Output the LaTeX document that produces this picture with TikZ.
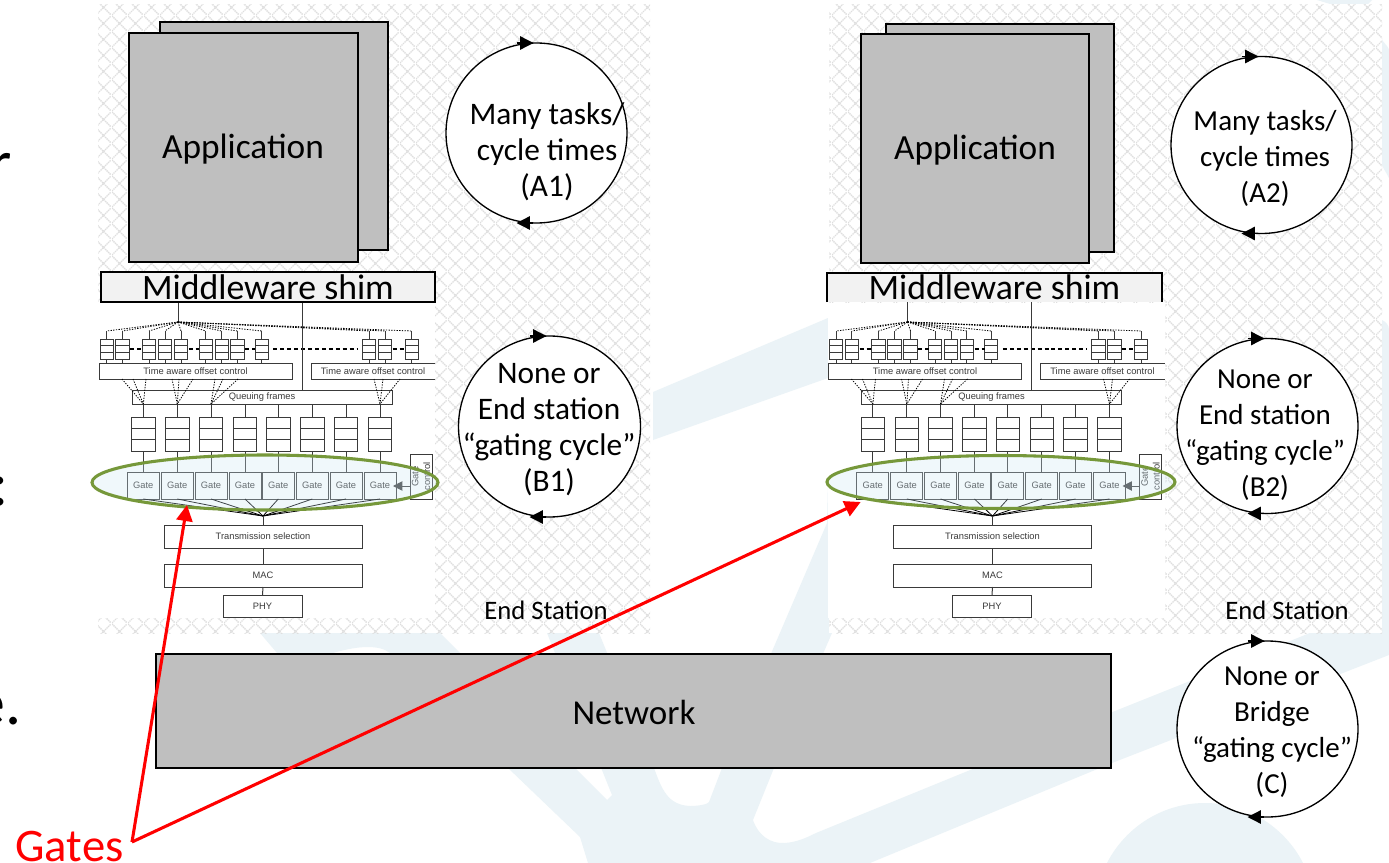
\documentclass[tikz,border=0pt]{standalone}
\usepackage{fontspec}
\setmainfont{Carlito}
\newfontfamily\arialf{Liberation Sans}
\usetikzlibrary{arrows.meta,calc,patterns,shapes.geometric}
\definecolor{wm}{HTML}{EBF3F7}
\definecolor{grayfill}{HTML}{BFBFBF}
\definecolor{shimfill}{HTML}{F2F2F2}
\definecolor{hatch}{HTML}{DEDEDE}
\definecolor{ink}{HTML}{3A3A3A}
\definecolor{ovalgreen}{HTML}{76983A}
\definecolor{ovalfill}{HTML}{CFE8F4}
\pgfdeclarepatternformonly{crosshatchdots}{\pgfqpoint{0pt}{0pt}}{\pgfqpoint{12pt}{12pt}}{\pgfqpoint{12pt}{12pt}}{%
  \pgfsetlinewidth{1.05pt}\pgfsetdash{{1.1pt}{0.6pt}}{0pt}%
  \pgfpathmoveto{\pgfqpoint{0pt}{0pt}}\pgfpathlineto{\pgfqpoint{12pt}{12pt}}%
  \pgfpathmoveto{\pgfqpoint{0pt}{12pt}}\pgfpathlineto{\pgfqpoint{12pt}{0pt}}%
  \pgfusepath{stroke}}
\tikzset{
  pxbox/.style={draw=ink,line width=.75pt,fill=white,inner sep=0pt,outer sep=0pt,text=ink,font=\arialf\fontsize{7}{8.75}\selectfont},
  appbox/.style={draw=black,line width=1.1pt,fill=grayfill,inner sep=0pt,outer sep=0pt,font=\fontsize{26.5}{30}\selectfont},
  shimbox/.style={fill=shimfill,inner sep=0pt,outer sep=0pt,font=\fontsize{26.8}{30}\selectfont},
  ring/.style={draw=black,line width=1pt,fill=white,shape=ellipse,inner sep=0pt,outer sep=0pt},
  ringtip/.style={draw=black,line width=1pt,-{Triangle[length=10pt,width=10pt]}},
  ringtext/.style={align=center,inner sep=0pt,font=\fontsize{21.75}{27}\selectfont},
  ringtextlarge/.style={align=center,inner sep=0pt,font=\fontsize{23.5}{27}\selectfont},
  thin ink/.style={draw=ink,line width=.75pt},
  fan dots/.style={draw=black,line width=.6pt,dash pattern=on 1pt off 1pt},
  heavy dash/.style={draw=black,line width=1.2pt,dash pattern=on 3pt off 2.2pt},
  gate oval/.style={shape=ellipse,draw=ovalgreen,line width=2.3pt,fill=ovalfill,fill opacity=.3,inner sep=0pt},
  redarrow/.style={draw=red,line width=2.3pt,line join=miter,-{Triangle[length=12pt,width=12pt]}},
  stationtext/.style={inner sep=0pt,font=\fontsize{20}{24}\selectfont},
  edgetext/.style={inner sep=0pt,anchor=base east,font=\fontsize{48}{56}\selectfont}
}
% #1 name, #2 x1, #3 y1, #4 x2, #5 y2, #6 style, #7 text
\newcommand{\boxnode}[7]{\node[#6,minimum width={((#4)-(#2))*0.75pt},minimum height={((#5)-(#3))*0.75pt}] (#1) at ({((#2)+(#4))/2},{((#3)+(#5))/2}) {#7};}
\newcommand{\cellrules}[1]{%
  \draw[thin ink] ($(#1.north west)!1/3!(#1.south west)$) -- ($(#1.north east)!1/3!(#1.south east)$);
  \draw[thin ink] ($(#1.north west)!2/3!(#1.south west)$) -- ($(#1.north east)!2/3!(#1.south east)$);}
% #1 prefix, #2 x offset in px
\newcommand{\stack}[2]{%
\begin{scope}[xshift=#2*0.75pt]
  \coordinate (#1shimdrop) at (178,302);
  \coordinate (#1hub) at (178,322);
  \coordinate (#1drop) at (302,302);
  \draw[thin ink] (#1shimdrop) -- (#1hub);
  \foreach \i/\a in {1/100,2/115.7,3/142.3,4/158.3,5/174.3,6/199,7/215,8/230.7,9/255,10/362.3,11/378.3,12/405}{
    \boxnode{#1s\i}{\a}{339}{\a+13.4}{359}{pxbox}{}
    \cellrules{#1s\i}
    \coordinate (#1st\i) at ($(#1s\i.north)+(0,-8)$);
    \draw[fan dots] (#1hub) -- (#1st\i);
    \draw[thin ink] (#1st\i) -- (#1s\i.north);
  }
  \draw[heavy dash] (#1s2.east |- 0,349) ++(1,0) coordinate (#1d1a) -- (#1s3.west |- #1d1a);
  \draw[heavy dash] (#1s5.east |- 0,349) ++(1,0) coordinate (#1d2a) -- (#1s6.west |- #1d2a);
  \draw[heavy dash] (#1s8.east |- 0,349) ++(1,0) coordinate (#1d3a) -- (#1s9.west |- #1d3a);
  \draw[heavy dash] (#1s9.east |- 0,349) ++(5,0) coordinate (#1d4a) -- ($(#1s10.west |- #1d4a)+(-5,0)$);
  \draw[heavy dash] (#1s11.east |- 0,349) ++(1,0) coordinate (#1d5a) -- (#1s12.west |- #1d5a);
  \boxnode{#1tac}{99}{363}{292}{379}{pxbox}{Time aware offset control}
  \boxnode{#1tbc}{311}{363}{435}{379}{pxbox,draw=none}{Time aware offset control}
  \draw[thin ink] (#1tbc.north east) -- (#1tbc.north west) -- (#1tbc.south west) -- (#1tbc.south east);
  \foreach \i in {1,...,9}{\draw[thin ink] (#1s\i.south) -- (#1s\i.south |- #1tac.north);}
  \foreach \i in {10,11,12}{\draw[thin ink] (#1s\i.south) -- (#1s\i.south |- #1tbc.north);}
  \boxnode{#1qf}{132}{390}{392}{404}{pxbox}{Queuing frames}
  \draw[thin ink] (#1drop) -- (#1drop |- #1qf.north);
  \foreach \i/\c in {1/143.3,2/177.3,3/211,4/245,5/278.3,6/312.3,7/346,8/380}{
    \boxnode{#1q\i}{\c-11.7}{417}{\c+11.7}{451}{pxbox}{}
    \cellrules{#1q\i}
    \draw[thin ink] (#1q\i.north |- #1qf.south) -- (#1q\i.north);
    \boxnode{#1g\i}{\c-16}{472}{\c+16}{499}{pxbox}{Gate}
    \draw[thin ink] (#1q\i.south) -- (#1g\i.north);
  }
  \foreach \x in {122,133,146}{\coordinate (#1p) at (\x,379); \draw[fan dots] (#1p) -- (#1q1.north |- #1qf.south);}
  \foreach \x in {172,179,193}{\coordinate (#1p) at (\x,379); \draw[fan dots] (#1p) -- (#1q2.north |- #1qf.south);}
  \foreach \x in {215,223,238}{\coordinate (#1p) at (\x,379); \draw[fan dots] (#1p) -- (#1q3.north |- #1qf.south);}
  \foreach \x in {374,383,400}{\coordinate (#1p) at (\x,379); \draw[fan dots] (#1p) -- (#1q8.north |- #1qf.south);}
  \coordinate (#1join) at (263,516);
  \foreach \i in {1,...,8}{\draw[draw=black,line width=.6pt] (#1g\i.south) -- (#1join);}
  \boxnode{#1ts}{164}{525}{362}{548}{pxbox}{Transmission selection}
  \boxnode{#1mac}{164}{564}{362}{587}{pxbox}{MAC}
  \boxnode{#1phy}{223}{595}{302}{617}{pxbox}{PHY}
  \draw[thin ink] (#1join) -- (#1join |- #1ts.north);
  \draw[thin ink] (#1ts.south) -- (#1mac.north);
  \draw[thin ink] (#1mac.south) -- (#1phy.north);
  \node[pxbox,rotate=90,minimum width=45*0.75pt,minimum height=22*0.75pt,align=center] (#1gc) at (421,476.5) {Gate\\control};
  \coordinate (#1gcfrom) at (410,486);
  \draw[draw=ink,line width=.75pt,-{Triangle[length=7pt,width=7pt]}] (#1gcfrom) -- (393,486);
\end{scope}}
\begin{document}
\begin{tikzpicture}[x=0.75pt,y=-0.75pt]
\useasboundingbox (0,0) rectangle (1389,863);
\fill[white] (0,0) rectangle (1389,863);
\begin{scope}
\clip (0,0) rectangle (1389,863);
\fill[wm] (260,633) -- (440,633) -- (607,800) -- (612,795) -- (547,633) -- (599,633) -- (654,768)
  .. controls (662,790) and (668,805) .. (690,806) .. controls (700,806) and (708,804) .. (709,802)
  -- (722,768) -- (827,523) -- (830,400) -- (832,633) -- (774,768) -- (753,820)
  .. controls (758,835) and (770,844) .. (785,843) .. controls (797,842) and (806,838) .. (816,833)
  -- (1100,717) -- (1300,637) -- (1389,600) -- (1389,655) -- (1112,763) -- (870,863) -- (588,863)
  -- (580,837) -- (508,768) -- (390,653) .. controls (380,645) and (360,645) .. (333,653) -- (300,680) -- cycle;
\fill[wm] (653,440) -- (828,378) -- (828,318) -- (653,392) -- cycle;
\fill[wm] (1205,913) circle [radius=110];
\fill[wm] (1382,40) .. controls (1386,45) and (1389,48) .. (1389,50) -- (1389,178) .. controls (1386,172) and (1384,170) .. (1382,165) -- cycle;
\fill[wm] (1382,320) .. controls (1386,322) and (1389,325) .. (1389,330) -- (1389,633) -- (1382,633) -- cycle;
\fill[wm] (1317,0) -- (1372,0) -- (1368,4) -- (1330,4) -- cycle;
\end{scope}
\fill[white] (98,5) rectangle (650,633);
\fill[white] (829,5) rectangle (1382,633);
\fill[pattern=crosshatchdots,pattern color=hatch] (98,5) rectangle (650,633);
\fill[pattern=crosshatchdots,pattern color=hatch] (829,5) rectangle (1382,633);
\fill[white] (98,302) rectangle (435,618);
\fill[white] (828,303) rectangle (1165,618);
\node[edgetext] (edgeR) at (12,185) {r};
\node[edgetext] (edgeC) at (9,505) {:};
\node[edgetext] (edgeE) at (22,724) {e.};
\boxnode{appBackL}{160}{22}{388}{250}{appbox}{}
\boxnode{appL}{129}{33}{358}{262}{appbox}{}
\node[inner sep=0pt,font=\fontsize{26.5}{30}\selectfont] (appLtext) at (243,149) {Application};
\boxnode{appBackR}{886}{24}{1114}{252}{appbox}{}
\boxnode{appR}{861}{34}{1089}{263}{appbox}{}
\node[inner sep=0pt,font=\fontsize{26.5}{30}\selectfont] (appRtext) at (975,150) {Application};
\stack{l}{0}
\stack{r}{729.5}
\boxnode{shimL}{101}{272}{435}{302}{shimbox,draw=black,line width=1.1pt}{Middleware shim}
\boxnode{shimR}{827}{273}{1162}{302}{shimbox}{Middleware shim}
\draw[draw=black,line width=1.1pt] (shimR.south west) -- (shimR.north west) -- (shimR.north east) -- (shimR.south east);
\node[gate oval,minimum width=346*0.75pt,minimum height=55*0.75pt] (ovalL) at (265,482.5) {};
\node[gate oval,minimum width=348*0.75pt,minimum height=53*0.75pt] (ovalR) at (1001,482) {};
\node[ring,minimum width=181*0.75pt,minimum height=180*0.75pt] (A1) at (536.5,133) {};
\node[ring,minimum width=181*0.75pt,minimum height=177*0.75pt] (A2) at (1261.5,145) {};
\node[ring,minimum width=182*0.75pt,minimum height=181*0.75pt] (B1) at (549.5,426.5) {};
\node[ring,minimum width=181*0.75pt,minimum height=175*0.75pt] (B2) at (1267.5,426) {};
\node[ring,minimum width=181*0.75pt,minimum height=176*0.75pt] (C) at (1267.5,729) {};
\foreach \n in {A1,A2,B1,B2,C}{
  \draw[ringtip] ([xshift=-20*0.75pt]\n.north) -- ([xshift=-3*0.75pt]\n.north);
  \draw[ringtip] ([xshift=-4*0.75pt]\n.south) -- ([xshift=-20*0.75pt]\n.south);
}
\node[ringtextlarge] (A1t) at (547,151.5) {Many tasks/\\cycle times\\(A1)};
\node[ringtext] (A2t) at (1265,158) {Many tasks/\\cycle times\\(A2)};
\node[ringtextlarge] (B1t) at (549,430) {None or\\End station\\“gating cycle”\\(B1)};
\node[ringtext] (B2t) at (1265,435) {None or\\End station\\“gating cycle”\\(B2)};
\node[ringtext] (Ct) at (1272,732) {None or\\Bridge\\“gating cycle”\\(C)};
\node[stationtext] (esL) at (546,610) {End Station};
\node[stationtext] (esR) at (1287,610) {End Station};
\boxnode{net}{156}{654}{1111}{768}{appbox}{}
\node[inner sep=0pt,font=\fontsize{26.25}{30}\selectfont] (netText) at (634,712) {Network};
\node[inner sep=0pt,text=red,font=\fontsize{35}{40}\selectfont,anchor=base] (gatesLbl) at (69.5,861) {Gates};
\coordinate (gatesApex) at (132,842);
\coordinate (tipL) at (187,505);
\coordinate (tipR) at (860.7,502);
\draw[redarrow] (gatesApex) -- (tipL);
\draw[redarrow] (gatesApex) -- (tipR);
\end{tikzpicture}
\end{document}
